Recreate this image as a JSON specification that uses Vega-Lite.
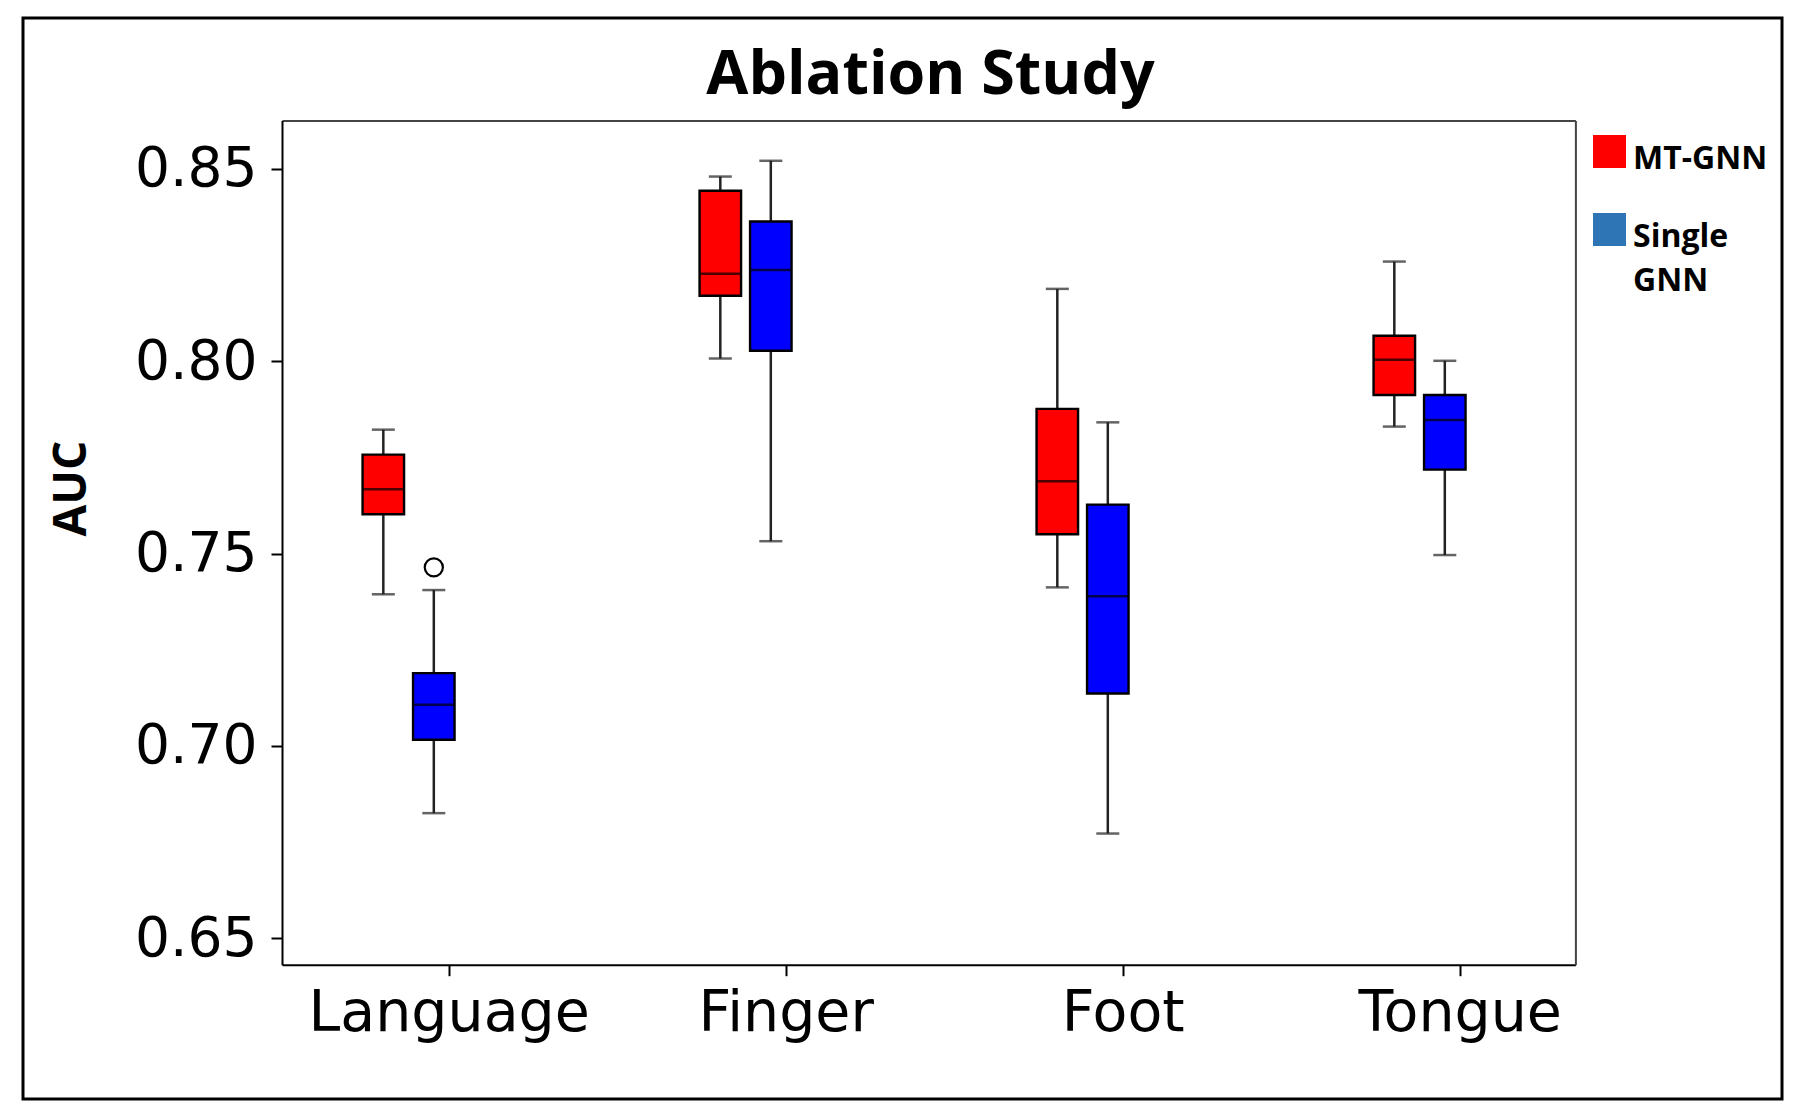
{
  "$schema": "https://vega.github.io/schema/vega-lite/v6.json",
  "width": 1759,
  "height": 1081,
  "padding": {"left": 23, "top": 18, "right": 10, "bottom": 8},
  "background": "white",
  "title": {"text": "Ablation Study", "font": "Open Sans", "fontWeight": "bold", "fontSize": 61, "color": "black", "anchor": "middle", "frame": "group", "dx": 28, "offset": -137, "baseline": "alphabetic"},
  "config": {"view": {"stroke": "black", "strokeWidth": 3}, "axis": {"grid": false}, "style": {"guide-label": {"dy": -8, "lineHeight": 44}}},
  "datasets": {
    "boxes": [
      {"category": "Language", "model": "MT-GNN", "lower": 0.7394, "q1": 0.7602, "median": 0.7667, "q3": 0.7757, "upper": 0.7822},
      {"category": "Language", "model": "Single GNN", "lower": 0.6825, "q1": 0.7016, "median": 0.7107, "q3": 0.7189, "upper": 0.7405},
      {"category": "Finger", "model": "MT-GNN", "lower": 0.8007, "q1": 0.8170, "median": 0.8227, "q3": 0.8443, "upper": 0.8480},
      {"category": "Finger", "model": "Single GNN", "lower": 0.7532, "q1": 0.8027, "median": 0.8237, "q3": 0.8363, "upper": 0.8521},
      {"category": "Foot", "model": "MT-GNN", "lower": 0.7412, "q1": 0.7550, "median": 0.7688, "q3": 0.7876, "upper": 0.8188},
      {"category": "Foot", "model": "Single GNN", "lower": 0.6772, "q1": 0.7136, "median": 0.7389, "q3": 0.7627, "upper": 0.7841},
      {"category": "Tongue", "model": "MT-GNN", "lower": 0.7830, "q1": 0.7912, "median": 0.8004, "q3": 0.8066, "upper": 0.8259},
      {"category": "Tongue", "model": "Single GNN", "lower": 0.7496, "q1": 0.7718, "median": 0.7847, "q3": 0.7912, "upper": 0.8001}
    ],
    "outliers": [
      {"category": "Language", "model": "Single GNN", "value": 0.7464}
    ]
  },
  "resolve": {"axis": {"x": "independent", "y": "independent"}},
  "layer": [
    {
      "data": {"name": "boxes"},
      "mark": {"type": "rule", "color": "#222222", "strokeWidth": 2.5},
      "encoding": {
        "x": {"field": "category", "type": "nominal", "sort": ["Language", "Finger", "Foot", "Tongue"],
              "scale": {"type": "band", "domain": ["Language", "Finger", "Foot", "Tongue"], "range": [259, 1552.4], "paddingInner": 0.3162, "paddingOuter": 0.0771, "align": 1},
              "axis": {"orient": "bottom", "offset": -134.3, "title": null, "labelFont": "DejaVu Sans", "labelFontSize": 57, "labelColor": "black", "labelAngle": 0, "labelPadding": 18, "labelLimit": 600, "tickSize": 11, "tickWidth": 2, "tickColor": "black", "domainColor": "black", "domainWidth": 2}},
        "xOffset": {"field": "model", "type": "nominal", "scale": {"type": "band", "domain": ["MT-GNN", "Single GNN"], "range": [28.6, 120.6], "paddingInner": 0.178, "paddingOuter": 0}},
        "y": {"field": "lower", "type": "quantitative",
              "scale": {"domain": [0.6431, 0.8626], "range": [946.7, 102.4], "nice": false, "zero": false},
              "axis": {"orient": "left", "offset": -259, "values": [0.65, 0.7, 0.75, 0.8, 0.85], "format": ".2f", "labelFont": "DejaVu Sans", "labelFontSize": 55, "labelColor": "black", "labelPadding": 14, "labelOffset": 8, "tickSize": 11, "tickWidth": 2, "tickColor": "black", "domainColor": "black", "domainWidth": 2,
                       "title": "AUC", "titleFont": "Open Sans", "titleFontWeight": "bold", "titleFontSize": 46, "titleColor": "black", "titleX": -211, "titleY": 470, "titleAngle": -90, "titleAlign": "center", "titleBaseline": "middle"}},
        "y2": {"field": "upper"}
      }
    },
    {
      "data": {"name": "boxes"},
      "mark": {"type": "tick", "color": "#222222", "size": 23, "thickness": 2.5},
      "encoding": {
        "x": {"field": "category", "type": "nominal", "axis": null},
        "xOffset": {"field": "model", "type": "nominal"},
        "y": {"field": "lower", "type": "quantitative", "axis": null}
      }
    },
    {
      "data": {"name": "boxes"},
      "mark": {"type": "tick", "color": "#222222", "size": 23, "thickness": 2.5},
      "encoding": {
        "x": {"field": "category", "type": "nominal", "axis": null},
        "xOffset": {"field": "model", "type": "nominal"},
        "y": {"field": "upper", "type": "quantitative", "axis": null}
      }
    },
    {
      "data": {"name": "boxes"},
      "mark": {"type": "bar", "stroke": "black", "strokeWidth": 2.4, "opacity": 1},
      "encoding": {
        "x": {"field": "category", "type": "nominal",
              "axis": {"orient": "top", "offset": -102.4, "labels": false, "ticks": false, "title": null, "domainColor": "#444444", "domainWidth": 2}},
        "xOffset": {"field": "model", "type": "nominal"},
        "y": {"field": "q1", "type": "quantitative",
              "axis": {"orient": "right", "offset": -206.6, "labels": false, "ticks": false, "title": null, "domainColor": "#444444", "domainWidth": 2}},
        "y2": {"field": "q3"},
        "fill": {"field": "model", "type": "nominal",
                 "scale": {"domain": ["Single GNN", "MT-GNN"], "range": ["#0000ff", "#ff0000"]},
                 "legend": null}
      }
    },
    {
      "data": {"name": "boxes"},
      "mark": {"type": "bar", "opacity": 0},
      "encoding": {
        "x": {"field": "category", "type": "nominal", "axis": null},
        "xOffset": {"field": "model", "type": "nominal"},
        "y": {"field": "q1", "type": "quantitative", "axis": null},
        "y2": {"field": "q3"},
        "color": {"field": "model", "type": "nominal",
                  "scale": {"domain": ["MT-GNN", "Single GNN"], "range": ["#ff0000", "#2e75b6"]},
                  "legend": {"title": null, "orient": "none", "legendX": 1570, "legendY": 117, "symbolType": "square", "symbolSize": 1089, "symbolStrokeWidth": 0, "symbolOpacity": 1,
                             "labelFont": "Open Sans", "labelFontWeight": "bold", "labelFontSize": 32, "labelColor": "black", "labelOffset": 7, "labelLimit": 400, "labelBaseline": "top", "rowPadding": 38,
                             "labelExpr": "datum.label == 'Single GNN' ? ['Single', 'GNN'] : datum.label"}}
      }
    },
    {
      "data": {"name": "boxes"},
      "mark": {"type": "tick", "color": "black", "size": 41, "thickness": 2.5},
      "encoding": {
        "x": {"field": "category", "type": "nominal", "axis": null},
        "xOffset": {"field": "model", "type": "nominal"},
        "y": {"field": "median", "type": "quantitative", "axis": null}
      }
    },
    {
      "data": {"name": "outliers"},
      "mark": {"type": "point", "shape": "circle", "size": 330, "filled": false, "stroke": "black", "strokeWidth": 2.2, "opacity": 1},
      "encoding": {
        "x": {"field": "category", "type": "nominal", "axis": null},
        "xOffset": {"field": "model", "type": "nominal"},
        "y": {"field": "value", "type": "quantitative", "axis": null}
      }
    }
  ]
}
